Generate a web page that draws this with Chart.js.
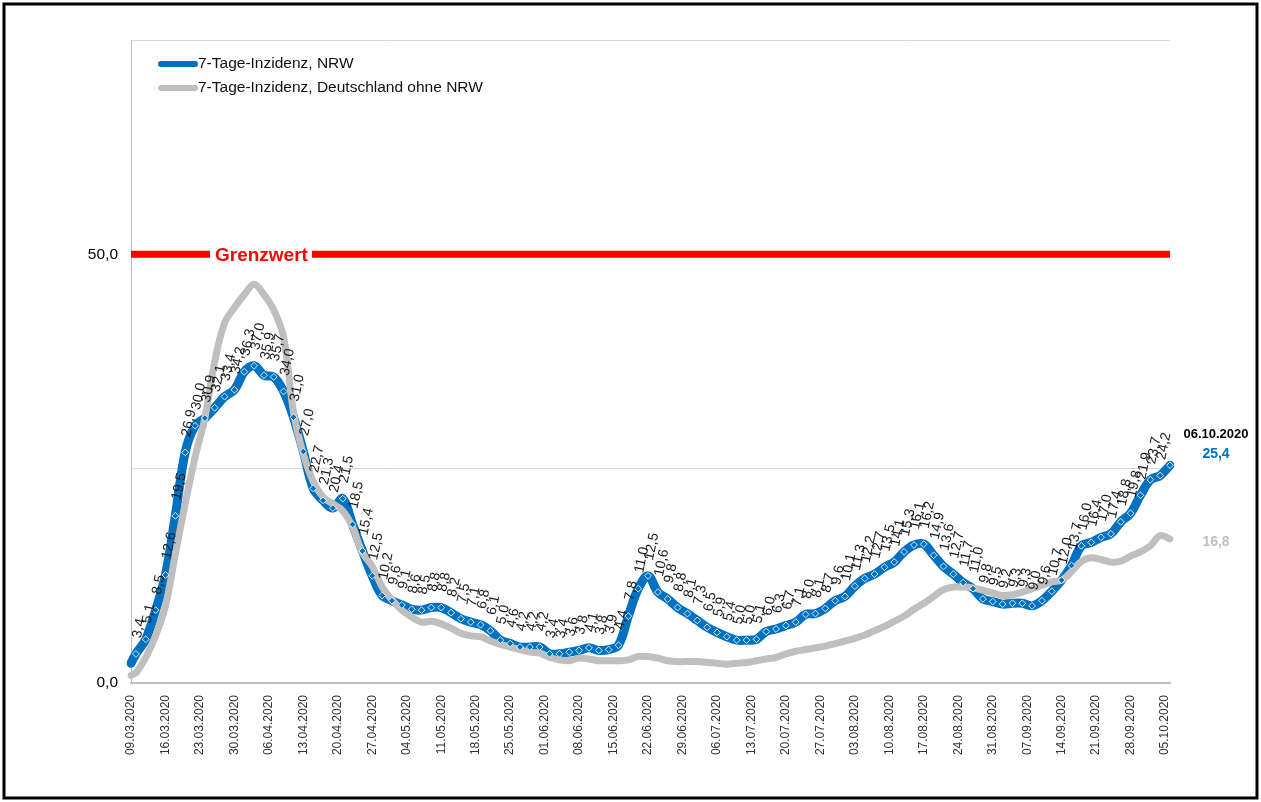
<!DOCTYPE html>
<html lang="de">
<head>
<meta charset="utf-8">
<title>7-Tage-Inzidenz NRW</title>
<script src="https://cdn.jsdelivr.net/npm/chart.js@4.4.1/dist/chart.umd.min.js"></script>
<style>
  html, body { margin: 0; padding: 0; background: #fff; }
  #wrap { position: relative; width: 1261px; height: 802px; }
</style>
</head>
<body>
<div id="wrap"><canvas id="inzidenz"></canvas></div>
<script>
// Zeitraum: 09.03.2020 bis 06.10.2020, täglich
const startDatum = [2020, 3, 9];
const anzahlTage = 212;

// Werte am Starttag (09.03.)
const nrwTag0 = 2.3;
const deTag0 = 0.9;

// 7-Tage-Inzidenz NRW, jeweils jeden zweiten Tag (10.03., 12.03., ... 06.10.)
const nrwWerte = [
  3.4, 5.1, 8.5, 12.6, 19.5, 26.9, 30.0, 30.9, 32.1, 33.4,
  34.2, 36.3, 37.0, 35.9, 35.7, 34.0, 31.0, 27.0, 22.7, 21.3,
  20.4, 21.5, 18.5, 15.4, 12.5, 10.2, 9.6, 9.1, 8.6, 8.5,
  8.8, 8.8, 8.2, 7.5, 7.1, 6.8, 6.1, 5.0, 4.6, 4.2,
  4.2, 4.2, 3.4, 3.4, 3.6, 3.8, 4.1, 3.8, 3.9, 4.4,
  7.8, 11.0, 12.5, 10.6, 9.8, 8.8, 8.1, 7.3, 6.5, 5.9,
  5.4, 5.0, 5.0, 5.1, 6.0, 6.3, 6.7, 7.1, 8.0, 8.1,
  8.7, 9.6, 10.1, 11.3, 12.2, 12.7, 13.5, 14.1, 15.3, 16.1,
  16.2, 14.9, 13.6, 12.7, 11.7, 11.0, 9.8, 9.5, 9.2, 9.3,
  9.3, 9.0, 9.6, 10.7, 12.0, 13.7, 16.0, 16.4, 17.0, 17.4,
  18.8, 19.8, 21.9, 23.7, 24.2, 25.4
];

// 7-Tage-Inzidenz Deutschland ohne NRW, gleiche Tage
const deWerte = [
  1.2, 3.0, 5.5, 9.0, 15.0, 20.9, 26.3, 30.9, 37.5, 42.0,
  43.8, 45.3, 46.5, 45.3, 43.5, 40.3, 31.6, 26.7, 23.5, 21.7,
  20.9, 20.1, 18.2, 15.2, 13.6, 11.2, 9.7, 8.5, 7.7, 7.1,
  7.2, 6.9, 6.4, 5.8, 5.5, 5.4, 4.9, 4.5, 4.2, 3.9,
  3.6, 3.5, 3.0, 2.7, 2.6, 2.9, 2.8, 2.6, 2.6, 2.6,
  2.7, 3.1, 3.1, 2.9, 2.6, 2.5, 2.5, 2.5, 2.4, 2.3,
  2.2, 2.3, 2.4, 2.6, 2.8, 3.0, 3.4, 3.7, 3.9, 4.1,
  4.3, 4.6, 4.9, 5.2, 5.6, 6.1, 6.6, 7.2, 7.8, 8.6,
  9.3, 10.1, 10.9, 11.2, 11.2, 11.1, 10.8, 10.5, 10.2, 10.3,
  10.6, 11.0, 11.4, 11.8, 12.0, 13.0, 14.2, 14.6, 14.4, 14.1,
  14.2, 14.8, 15.3, 16.0, 17.2, 16.8
];

const grenzwert = 50;
const yTicksBeschriftet = [0, 50];
const serienNamen = ['7-Tage-Inzidenz, NRW', '7-Tage-Inzidenz, Deutschland ohne NRW'];

const BLAU = '#0070C0';
const GRAU = '#BFBFBF';
const SCHRIFT = '"Liberation Sans", Arial, sans-serif';

function zweistellig(n) {
  return String(n).padStart(2, '0');
}

function baueDaten() {
  const liste = [];
  const t0 = Date.UTC(startDatum[0], startDatum[1] - 1, startDatum[2]);
  for (let i = 0; i < anzahlTage; i++) {
    const d = new Date(t0 + i * 86400000);
    liste.push(zweistellig(d.getUTCDate()) + '.' + zweistellig(d.getUTCMonth() + 1) + '.' + d.getUTCFullYear());
  }
  return liste;
}

function komma(v) {
  return v.toFixed(1).replace('.', ',');
}

const datumListe = baueDaten();

// Punkte jeweils auf den ungeraden Tagen (Index 1, 3, 5, ...)
const nrwMarker = nrwWerte.map((v, i) => ({ x: datumListe[2 * i + 1], y: v }));
const nrwLinie = [{ x: datumListe[0], y: nrwTag0 }].concat(nrwMarker);
const deLinie = [{ x: datumListe[0], y: deTag0 }].concat(deWerte.map((v, i) => ({ x: datumListe[2 * i + 1], y: v })));

// Rahmen um das ganze Bild
const rahmenPlugin = {
  id: 'rahmen',
  afterDraw(chart) {
    const ctx = chart.ctx;
    ctx.save();
    ctx.strokeStyle = '#000';
    ctx.lineWidth = 3;
    ctx.strokeRect(4, 4, chart.width - 8, chart.height - 8);
    ctx.restore();
  }
};

// rote Linie bei 50 mit Beschriftung
const grenzwertPlugin = {
  id: 'grenzwert',
  beforeDatasetsDraw(chart) {
    const ctx = chart.ctx;
    const area = chart.chartArea;
    const y = chart.scales.y.getPixelForValue(grenzwert);
    ctx.save();
    ctx.strokeStyle = '#FF0000';
    ctx.lineWidth = 7;
    ctx.beginPath();
    ctx.moveTo(area.left, y);
    ctx.lineTo(area.right, y);
    ctx.stroke();
    ctx.font = 'bold 19px ' + SCHRIFT;
    const text = 'Grenzwert';
    const w = ctx.measureText(text).width;
    const x = 215;
    ctx.fillStyle = '#fff';
    ctx.fillRect(x - 5, y - 11, w + 9, 22);
    ctx.fillStyle = '#FF0000';
    ctx.textBaseline = 'middle';
    ctx.fillText(text, x, y + 1);
    ctx.restore();
  }
};

// Datenbeschriftungen (gedreht) und Endwerte rechts
const beschriftungPlugin = {
  id: 'beschriftung',
  afterDatasetsDraw(chart) {
    const ctx = chart.ctx;
    const area = chart.chartArea;
    const punkte = chart.getDatasetMeta(0).data;
    ctx.save();
    ctx.font = '14px ' + SCHRIFT;
    ctx.fillStyle = '#1a1a1a';
    ctx.textAlign = 'left';
    ctx.textBaseline = 'middle';
    for (let i = 0; i < punkte.length - 1; i++) {
      const p = punkte[i];
      ctx.save();
      ctx.translate(p.x + 1, p.y - 16);
      ctx.rotate(-78 * Math.PI / 180);
      ctx.fillText(komma(nrwWerte[i]), 0, 0);
      ctx.restore();
    }
    const letzterNrw = punkte[punkte.length - 1];
    const deMeta = chart.getDatasetMeta(1).data;
    const letzterDe = deMeta[deMeta.length - 1];
    const xMitte = area.right + 46;
    ctx.textAlign = 'center';
    ctx.font = 'bold 13px ' + SCHRIFT;
    ctx.fillStyle = '#000';
    ctx.fillText(datumListe[anzahlTage - 1], xMitte, letzterNrw.y - 31);
    ctx.font = 'bold 14px ' + SCHRIFT;
    ctx.fillStyle = BLAU;
    ctx.fillText(komma(nrwWerte[nrwWerte.length - 1]), xMitte, letzterNrw.y - 11);
    ctx.fillStyle = GRAU;
    ctx.fillText(komma(deWerte[deWerte.length - 1]), xMitte, letzterDe.y + 3);
    ctx.restore();
  }
};

// Legende oben links im Diagramm
const legendePlugin = {
  id: 'legende',
  afterDraw(chart) {
    const ctx = chart.ctx;
    const farben = [BLAU, GRAU];
    ctx.save();
    ctx.font = '15.5px ' + SCHRIFT;
    ctx.textBaseline = 'middle';
    ctx.lineCap = 'round';
    serienNamen.forEach((name, i) => {
      const y = 64 + i * 24;
      ctx.strokeStyle = farben[i];
      ctx.lineWidth = 6;
      ctx.beginPath();
      ctx.moveTo(161, y);
      ctx.lineTo(195, y);
      ctx.stroke();
      ctx.fillStyle = '#111';
      ctx.fillText(name, 198, y);
    });
    ctx.restore();
  }
};

new Chart(document.getElementById('inzidenz'), {
  type: 'line',
  data: {
    labels: datumListe,
    datasets: [
      {
        label: serienNamen[0] + ' Punkte',
        data: nrwMarker,
        showLine: false,
        pointStyle: 'rectRot',
        pointRadius: 3.4,
        pointBackgroundColor: BLAU,
        pointBorderColor: 'rgba(235,243,250,0.95)',
        pointBorderWidth: 1
      },
      {
        label: serienNamen[1],
        data: deLinie,
        borderColor: GRAU,
        borderWidth: 7,
        pointRadius: 0,
        tension: 0.35,
        borderCapStyle: 'round',
        borderJoinStyle: 'round'
      },
      {
        label: serienNamen[0],
        data: nrwLinie,
        borderColor: BLAU,
        borderWidth: 9,
        pointRadius: 0,
        tension: 0.35,
        borderCapStyle: 'round',
        borderJoinStyle: 'round'
      }
    ]
  },
  options: {
    responsive: true,
    maintainAspectRatio: false,
    animation: false,
    layout: {
      padding: { top: 40, right: 91, left: 0, bottom: 0 }
    },
    plugins: {
      legend: { display: false },
      tooltip: { enabled: false }
    },
    scales: {
      x: {
        offset: false,
        grid: { display: false },
        border: { display: true, color: '#BFBFBF', width: 2 },
        ticks: {
          autoSkip: false,
          minRotation: 90,
          maxRotation: 90,
          padding: 4,
          color: '#333',
          font: { size: 12, family: SCHRIFT },
          callback: function (val, idx) {
            return idx % 7 === 0 ? this.getLabelForValue(val) : '';
          }
        },
        afterFit(scale) {
          scale.height = 119;
        }
      },
      y: {
        min: 0,
        max: 75,
        grid: { color: '#D9D9D9', lineWidth: 1, drawTicks: false },
        border: { display: true, color: '#BFBFBF', width: 1 },
        ticks: {
          stepSize: 25,
          padding: 13,
          color: '#000',
          font: { size: 15.5, family: SCHRIFT },
          callback: (v) => (yTicksBeschriftet.includes(v) ? komma(v) : '')
        },
        afterFit(scale) {
          scale.width = 131;
        }
      }
    }
  },
  plugins: [grenzwertPlugin, beschriftungPlugin, legendePlugin, rahmenPlugin]
});
</script>
</body>
</html>
